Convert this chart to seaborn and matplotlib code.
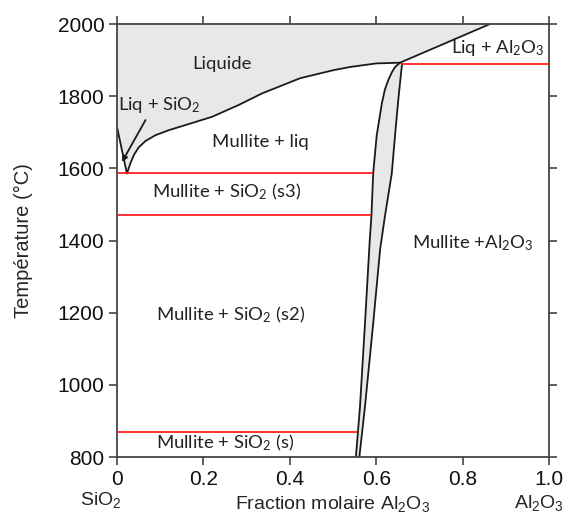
import pandas as pd
import seaborn as sns
import matplotlib.pyplot as plt

# liquidus, mullite side (from the eutectic up to the incongruent point)
liq_x = [0.023, 0.031, 0.039, 0.050, 0.066, 0.089, 0.120, 0.158, 0.220, 0.282,
         0.336, 0.424, 0.5, 0.539, 0.6, 0.655]
liq_t = [1586, 1614, 1637, 1658, 1676, 1692, 1706, 1720, 1743, 1776,
         1808, 1850, 1872, 1881, 1891, 1893]
# liquidus, silica side
sio2_x = [0.0, 0.023]
sio2_t = [1715, 1586]
# liquidus, alumina side
al_x = [0.655, 0.863]
al_t = [1893, 2000]
# mullite solid solution, left and right limits
mul_left_x = [0.553, 0.5625, 0.574, 0.585, 0.589, 0.593, 0.601, 0.613, 0.620,
              0.628, 0.636, 0.643, 0.655]
mul_left_t = [800, 940, 1170, 1400, 1470, 1587, 1690, 1780, 1818,
              1845, 1866, 1880, 1893]
mul_right_x = [0.561, 0.574, 0.593, 0.609, 0.620, 0.636, 0.644, 0.651, 0.658, 0.660]
mul_right_t = [800, 940, 1170, 1375, 1466, 1586, 1697, 1789, 1870, 1890]
# invariant lines: temperature, x start, x end
iso_t = [1587, 1470, 870, 1890]
iso_x0 = [0.0, 0.0, 0.0, 0.658]
iso_x1 = [0.593, 0.589, 0.556, 1.0]

labels = ['Liquide', 'Liq + SiO$_2$', 'Mullite + liq', 'Mullite + SiO$_2$ (s3)',
          'Mullite + SiO$_2$ (s2)', 'Mullite + SiO$_2$ (s)', 'Liq + Al$_2$O$_3$',
          'Mullite +Al$_2$O$_3$']
label_x = [0.243, 0.097, 0.331, 0.254, 0.263, 0.25, 0.881, 0.823]
label_t = [1889, 1776, 1673, 1534, 1194, 839, 1933, 1393]

xticks = [0, 0.2, 0.4, 0.6, 0.8, 1.0]
xticklabels = ['0', '0.2', '0.4', '0.6', '0.8', '1.0']
yticks = [800, 1000, 1200, 1400, 1600, 1800, 2000]

sns.set_theme(style='ticks')
plt.rcParams['font.family'] = ['Liberation Sans', 'DejaVu Sans']
plt.rcParams['mathtext.default'] = 'regular'

fig = plt.figure(figsize=(5.66, 5.17), dpi=100)
ax = fig.add_axes([0.2067, 0.116, 0.7633, 0.8374])

fill_grey = '#e8e8e8'
# liquid region
poly_x = [0.0] + sio2_x + liq_x[1:] + al_x[1:] + [0.0]
poly_t = [2000] + sio2_t + liq_t[1:] + al_t[1:] + [2000]
ax.fill(poly_x, poly_t, color=fill_grey, lw=0, zorder=0)
# mullite lens
ax.fill(mul_left_x + mul_right_x[::-1], mul_left_t + mul_right_t[::-1],
        color=fill_grey, lw=0, zorder=0)

for xs, ts in [(liq_x, liq_t), (sio2_x, sio2_t), (al_x, al_t),
               (mul_left_x, mul_left_t), (mul_right_x, mul_right_t)]:
    df = pd.DataFrame({'x': xs, 't': ts})
    sns.lineplot(data=df, x='x', y='t', sort=False, estimator=None,
                 color='#1a1a1a', lw=1.3, ax=ax)

ax.hlines(iso_t, iso_x0, iso_x1, color='#ff2020', lw=1.3, zorder=3)

calib = ['Lato', 'DejaVu Sans']
for txt, x, t in zip(labels, label_x, label_t):
    ax.text(x, t, txt, ha='center', va='center', fontsize=13.3,
            family=calib, color='#222222')

ax.annotate('', xy=(0.0116, 1618), xytext=(0.066, 1734),
            arrowprops=dict(arrowstyle='-|>', color='#1a1a1a', lw=1.3,
                            mutation_scale=8, shrinkA=0, shrinkB=0))

ax.set_xlim(0, 1.0)
ax.set_ylim(800, 2000)
ax.set_xticks(xticks)
ax.set_xticklabels(xticklabels)
ax.set_yticks(yticks)
ax.tick_params(direction='out', top=True, right=True, length=6, width=1.2,
               color='#444444', labelsize=15, labelcolor='#111111', pad=3)
for side in ['top', 'right', 'bottom', 'left']:
    ax.spines[side].set_visible(True)
    ax.spines[side].set_linewidth(1.3)
    ax.spines[side].set_color('#444444')

ax.set_ylabel('Température (°C)', fontsize=14.5, labelpad=18)
ax.set_xlabel('Fraction molaire Al$_2$O$_3$', fontsize=14, labelpad=4)
fig.text(101 / 566, 1 - 500 / 517, 'SiO$_2$', ha='center', va='center', fontsize=14)
fig.text(539 / 566, 1 - 503 / 517, 'Al$_2$O$_3$', ha='center', va='center', fontsize=14)

plt.savefig('out.png', dpi=100)
